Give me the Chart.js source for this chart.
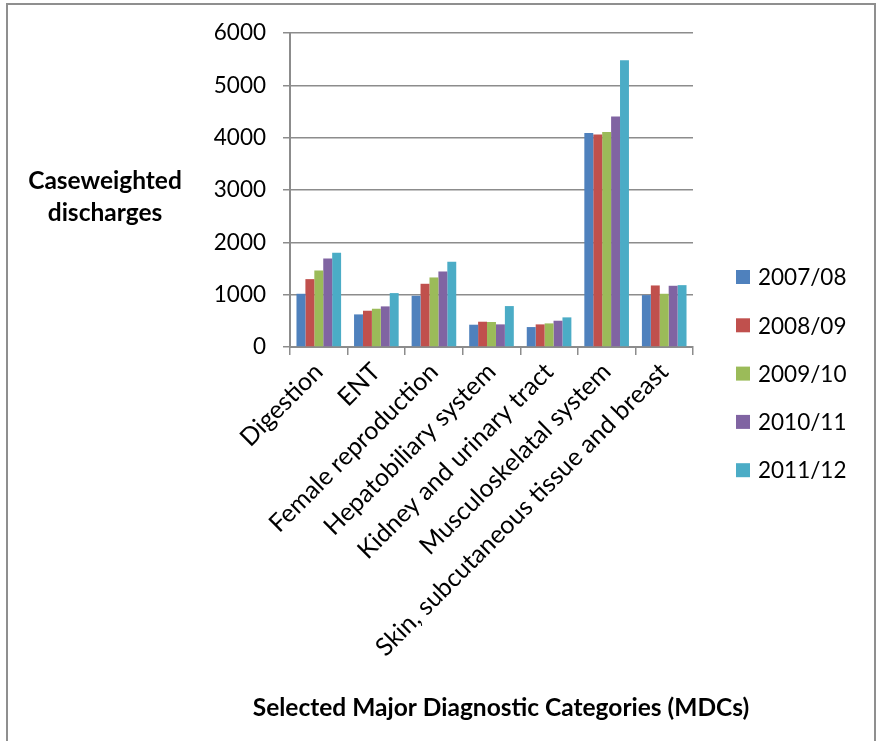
<!DOCTYPE html>
<html>
<head>
<meta charset="utf-8">
<script src="https://cdn.jsdelivr.net/npm/chart.js@4/dist/chart.umd.min.js"></script>
<style>
  html, body { margin: 0; padding: 0; background: #ffffff; }
  #wrap { width: 877px; height: 741px; position: relative; }
</style>
</head>
<body>
<div id="wrap"><canvas id="chart" width="877" height="741"></canvas></div>
<script>
// Caseweighted discharges by selected MDC, 2007/08 to 2011/12
const categories = [
  'Digestion',
  'ENT',
  'Female reproduction',
  'Hepatobiliary system',
  'Kidney and urinary tract',
  'Musculoskelatal system',
  'Skin, subcutaneous tissue and breast'
];
const seriesNames = ['2007/08', '2008/09', '2009/10', '2010/11', '2011/12'];
const v2007 = [1017, 623, 979, 426, 381, 4088, 992];
const v2008 = [1297, 693, 1208, 483, 432, 4062, 1176];
const v2009 = [1462, 731, 1329, 478, 451, 4107, 1017];
const v2010 = [1691, 776, 1443, 432, 502, 4406, 1170];
const v2011 = [1799, 1030, 1627, 782, 566, 5480, 1182];
const yTicks = [0, 1000, 2000, 3000, 4000, 5000, 6000];

const colors = ['#4F81BD', '#C0504D', '#9BBB59', '#8064A2', '#4BACC6'];
const seriesValues = [v2007, v2008, v2009, v2010, v2011];
const FONT = 'Lato, "DejaVu Sans", sans-serif';
const GRID = '#8c8c8c';

// Frame, horizontal y-axis title, x-axis title and the side legend
const decorations = {
  id: 'decorations',
  beforeDraw(chart) {
    const ctx = chart.ctx;
    ctx.save();
    ctx.fillStyle = '#ffffff';
    ctx.fillRect(0, 0, chart.width, chart.height);
    ctx.strokeStyle = '#8f8f8f';
    ctx.lineWidth = 2;
    ctx.strokeRect(7, 4, 868, 760);
    ctx.restore();
  },
  afterDraw(chart) {
    const ctx = chart.ctx;
    ctx.save();
    ctx.fillStyle = '#000000';
    ctx.font = 'bold 24.5px ' + FONT;
    ctx.textAlign = 'center';
    ctx.textBaseline = 'alphabetic';
    ctx.fillText('Caseweighted', 105, 189);
    ctx.fillText('discharges', 105, 221);
    ctx.fillText('Selected Major Diagnostic Categories (MDCs)', 501, 716);

    ctx.font = '22.5px ' + FONT;
    ctx.textAlign = 'left';
    ctx.textBaseline = 'middle';
    chart.data.datasets.forEach((ds, i) => {
      const y = 277 + i * 48.3;
      ctx.fillStyle = ds.backgroundColor;
      ctx.fillRect(736, y - 7, 14, 14);
      ctx.fillStyle = '#000000';
      ctx.fillText(ds.label, 758, y + 1);
    });
    ctx.restore();
  }
};

new Chart(document.getElementById('chart'), {
  type: 'bar',
  data: {
    labels: categories,
    datasets: seriesNames.map((name, i) => ({
      label: name,
      data: seriesValues[i],
      backgroundColor: colors[i],
      borderWidth: 0,
      categoryPercentage: 0.775,
      barPercentage: 1.0
    }))
  },
  options: {
    responsive: false,
    devicePixelRatio: 1,
    animation: false,
    layout: { padding: { top: 33, right: 184, bottom: 0, left: 0 } },
    plugins: {
      legend: { display: false },
      tooltip: { enabled: false },
      title: { display: false }
    },
    scales: {
      x: {
        grid: {
          offset: true,
          drawOnChartArea: false,
          drawTicks: true,
          tickLength: 8,
          color: GRID,
          lineWidth: 1.5
        },
        border: { display: true, color: GRID, width: 2 },
        ticks: {
          autoSkip: false,
          maxRotation: 45,
          minRotation: 45,
          padding: 2,
          color: '#000000',
          font: { family: FONT, size: 25 }
        },
        afterFit(scale) { scale.height = 741 - 347; }
      },
      y: {
        min: 0,
        max: 6000,
        afterBuildTicks(scale) { scale.ticks = yTicks.map(v => ({ value: v })); },
        grid: {
          color: GRID,
          lineWidth: 1.5,
          drawTicks: true,
          tickLength: 7
        },
        border: { display: true, color: GRID, width: 2 },
        ticks: {
          padding: 17,
          color: '#000000',
          font: { family: FONT, size: 22.5 },
          callback: (value) => String(value)
        },
        afterFit(scale) { scale.width = 290; }
      }
    }
  },
  plugins: [decorations]
});
</script>
</body>
</html>
